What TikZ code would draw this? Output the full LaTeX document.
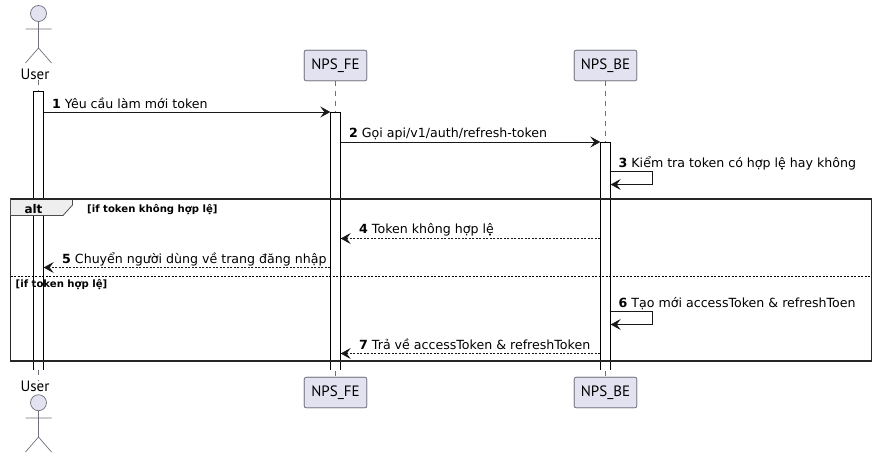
\documentclass[tikz,border=0pt]{standalone}
\usepackage{fontspec}
\setmainfont{DejaVu Sans}
\newfontfamily\namefont{PT Sans}
\usetikzlibrary{arrows.meta}
\definecolor{partfill}{HTML}{E2E2F0}
\definecolor{partline}{HTML}{70707C}
\definecolor{altfill}{HTML}{EEEEEE}

\begin{document}
\begin{tikzpicture}[x=1pt,y=-1pt,
    part/.style={draw=partline,fill=partfill,rounded corners=2pt,line width=0.7pt,minimum width=62.5pt,minimum height=30.5pt,inner sep=0pt,font=\namefont\fontsize{15}{15}\selectfont},
    actorname/.style={inner sep=0pt,font=\namefont\fontsize{15}{15}\selectfont},
    head/.style={draw=partline,fill=partfill,circle,line width=0.7pt,minimum size=16pt,inner sep=0pt},
    stick/.style={draw=partline,line width=0.7pt},
    life/.style={draw=partline,line width=0.6pt,dash pattern=on 5pt off 5pt},
    bar/.style={fill=white,minimum width=10pt,inner sep=0pt,anchor=north},
    barline/.style={draw=black,line width=0.8pt},
    msg/.style={draw=black!90,line width=0.8pt,-{Stealth[length=10pt,width=11pt,inset=4pt]}},
    back/.style={msg,dash pattern=on 2pt off 1.5pt},
    msgtext/.style={inner sep=0pt,anchor=base west,font=\fontsize{12.6}{12.6}\selectfont},
    guard/.style={inner sep=0pt,anchor=base west,font=\bfseries\fontsize{10.1}{10.1}\selectfont}]
    \useasboundingbox (0, 0) rectangle (877, 458);
    
    % top and bottom of the three lanes
    \node[actorname] (user_top) at (35, 74) {User};
    \node[actorname] (user_bot) at (35, 386) {User};
    \node[part] (fe_top) at (335.5, 65.5) {NPS\_FE};
    \node[part] (fe_bot) at (335.5, 392.5) {NPS\_FE};
    \node[part] (be_top) at (605.5, 65.5) {NPS\_BE};
    \node[part] (be_bot) at (605.5, 392.5) {NPS\_BE};
    
    \coordinate (user_x) at (38.5, 0);
    \draw[life] (user_x |- user_top.south) -- (user_x |- user_bot.north);
    \draw[life] (fe_top) -- (fe_bot);
    \draw[life] (be_top) -- (be_bot);
    \node[part] at (fe_top) {NPS\_FE};
    \node[part] at (fe_bot) {NPS\_FE};
    \node[part] at (be_top) {NPS\_BE};
    \node[part] at (be_bot) {NPS\_BE};
    
    % actors
    \node[head] (head_top) at (38.5, 13.5) {};
    \node[head] (head_bot) at (38.5, 402.7) {};
    \draw[stick]
    (head_top.south) -- (38.5, 48) -- (25.5, 63)
    (38.5, 48) -- (51.5, 63)
    (25.5, 29) -- (51.5, 29)
    (head_bot.south) -- (38.5, 437) -- (25.5, 452)
    (38.5, 437) -- (51.5, 452)
    (25.5, 418) -- (51.5, 418);
    
    % activation bars, open at the bottom
    \node[bar,minimum height=278.5pt] (user_bar) at (38.5, 91) {};
    \node[bar,minimum height=257.5pt] (fe_bar) at (335.5, 112) {};
    \node[bar,minimum height=227.5pt] (be_bar) at (605.5, 142) {};
    \draw[barline] (user_bar.south west) |- (user_bar.north east) -- (user_bar.south east);
    \draw[barline] (fe_bar.south west) |- (fe_bar.north east) -- (fe_bar.south east);
    \draw[barline] (be_bar.south west) |- (be_bar.north east) -- (be_bar.south east);
    
    % message levels
    \coordinate (m1) at (0, 112);
    \coordinate (m2) at (0, 142);
    \coordinate (m3a) at (0, 171.5);
    \coordinate (m3b) at (0, 184.5);
    \coordinate (m4) at (0, 238.5);
    \coordinate (m5) at (0, 267.5);
    \coordinate (m6a) at (0, 311.5);
    \coordinate (m6b) at (0, 324.5);
    \coordinate (m7) at (0, 353.5);
    \coordinate (alt_sep) at (0, 276);
    
    \draw[msg] (user_bar.east |- m1) -- (fe_bar.west |- m1);
    \draw[msg] (fe_bar.east |- m2) -- (be_bar.west |- m2);
    \draw[msg] (be_bar.east |- m3a) -- ++(42, 0) |- (be_bar.east |- m3b);
    \draw[back] (be_bar.west |- m4) -- (fe_bar.east |- m4);
    \draw[back] (fe_bar.west |- m5) -- (user_bar.east |- m5);
    \draw[msg] (be_bar.east |- m6a) -- ++(42, 0) |- (be_bar.east |- m6b);
    \draw[back] (be_bar.west |- m7) -- (fe_bar.east |- m7);
    
    \node[msgtext] (t1) at (52, 108) {\textbf{1} Yêu cầu làm mới token};
    \node[msgtext] (t2) at (349, 137) {\textbf{2} Gọi api/v1/auth/refresh-token};
    \node[msgtext] (t3) at (618.5, 167) {\textbf{3} Kiểm tra token có hợp lệ hay không};
    \node[msgtext] (t4) at (359, 233) {\textbf{4} Token không hợp lệ};
    \node[msgtext] (t5) at (62, 263) {\textbf{5} Chuyển người dùng về trang đăng nhập};
    \node[msgtext] (t6) at (618.5, 307) {\textbf{6} Tạo mới accessToken \& refreshToen};
    \node[msgtext] (t7) at (359, 349) {\textbf{7} Trả về accessToken \& refreshToken};
    
    % alt frame
    \node[draw=black!85,line width=1.5pt,minimum width=861pt,minimum height=162pt,inner sep=0pt,outer sep=0pt,anchor=north west] (alt_frame) at (10.5, 199) {};
    \draw[draw=black!70,line width=0.8pt,fill=altfill] (alt_frame.north west) -- (72.5, 199) -- (72.5, 205) -- (63, 215.5) -- (10.5, 215.5) -- cycle;
    \draw[draw=black!85,line width=1.5pt] (alt_frame.north west) -- (alt_frame.north east);
    \draw[draw=black,line width=0.7pt,dash pattern=on 2pt off 1.5pt] (alt_frame.west |- alt_sep) -- (alt_frame.east |- alt_sep);
    \node[inner sep=0pt,anchor=base,font=\bfseries\fontsize{12}{12}\selectfont] (alt_name) at (33.5, 213) {alt};
    \node[guard] (g1) at (87, 212) {[if token không hợp lệ]};
    \node[guard] (g2) at (15.5, 287) {[if token hợp lệ]};
\end{tikzpicture}
\end{document}
